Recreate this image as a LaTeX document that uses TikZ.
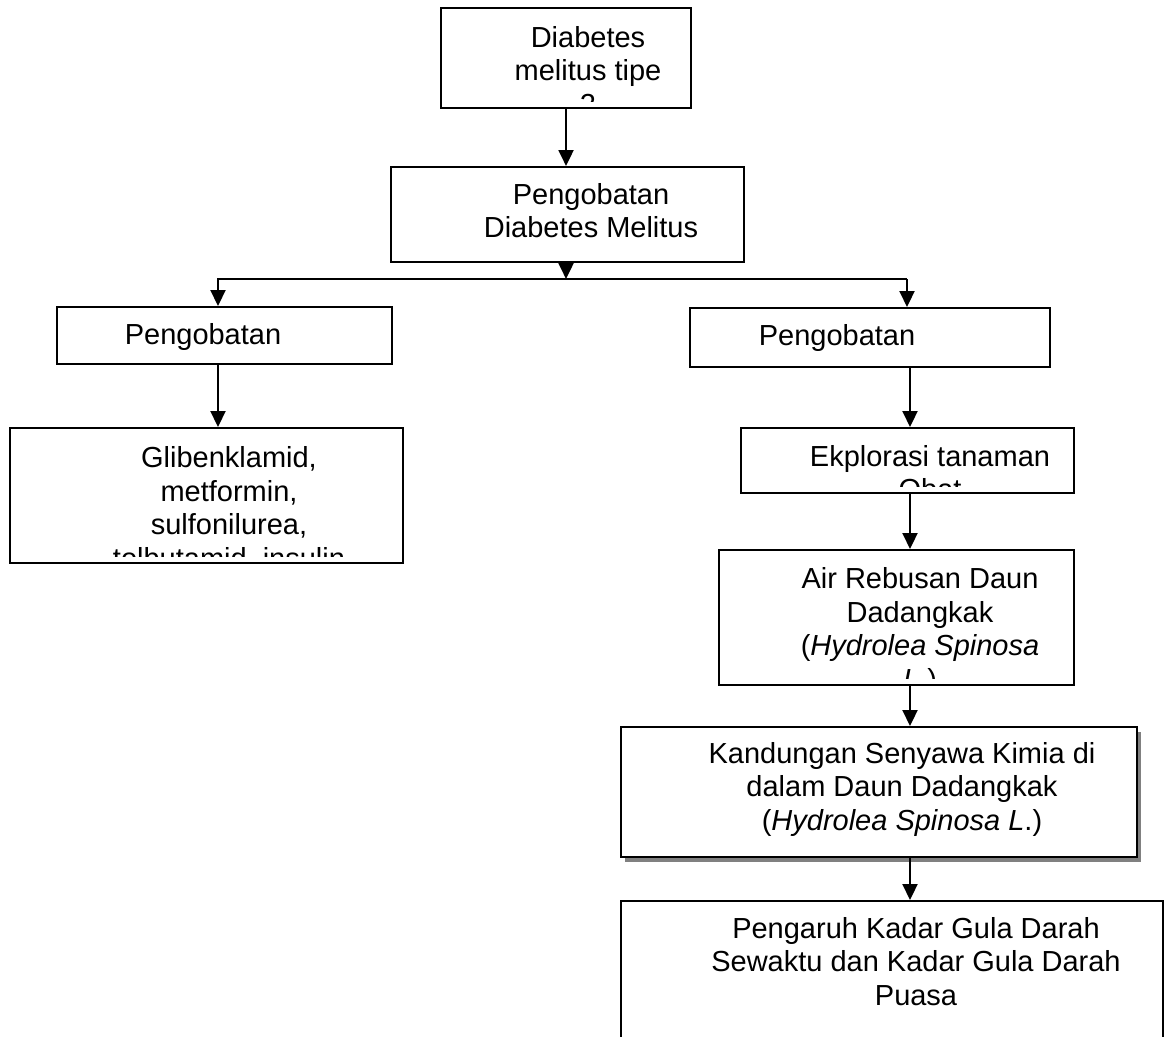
\documentclass[tikz,border=0pt]{standalone}
\usepackage{fontspec}
\setmainfont{Liberation Sans}
\usetikzlibrary{arrows.meta,shadows}

\tikzset{
  box/.style={draw, line width=1.2pt, fill=white, inner sep=0pt, anchor=north west},
  lbl/.style={font=\fontsize{16.5}{19.07}\selectfont, align=center, anchor=base, inner sep=0pt},
  flow/.style={line width=1.2pt, line join=miter, -{Triangle[width=0.3cm,length=0.32cm]}}
}
% text of a box, cut off a little above the bottom edge (placed at its last baseline)
\newcommand{\cliptext}[4]{%
  \begin{scope}
    \clip ([yshift=0.16cm]#1.south west) rectangle (#1.north east);
    \node[lbl] (#1t) at (#2,#3) {#4};
  \end{scope}}

\begin{document}
\begin{tikzpicture}[x=0.02cm,y=-0.02cm]
  \useasboundingbox (0,0) rectangle (1165,1036);
  \clip (0,0) rectangle (1165,1036);

  % boxes
  \node[box, minimum width=5cm, minimum height=2cm] (dm) at (440,7) {};
  \node[box, minimum width=7.06cm, minimum height=1.9cm] (obat) at (390,166) {};
  \node[box, minimum width=6.7cm, minimum height=1.14cm] (kimia) at (56,306) {};
  \node[box, minimum width=7.2cm, minimum height=1.18cm] (herbal) at (689,307) {};
  \node[box, minimum width=7.86cm, minimum height=2.7cm] (glib) at (9,427) {};
  \node[box, minimum width=6.66cm, minimum height=1.3cm] (eksp) at (740,427) {};
  \node[box, minimum width=7.1cm, minimum height=2.7cm] (air) at (718,549) {};
  \node[box, minimum width=10.32cm, minimum height=2.6cm,
        drop shadow={shadow xshift=0.08cm, shadow yshift=-0.1cm, fill=gray, opacity=1}] (senyawa) at (620,726) {};
  \node[box, minimum width=10.84cm, minimum height=3cm] (gula) at (620,900) {};

  % texts
  \cliptext{dm}{588}{114}{Diabetes\\melitus tipe\\2}
  \cliptext{obat}{591}{237.5}{Pengobatan\\Diabetes Melitus}
  \cliptext{kimia}{203}{344}{Pengobatan}
  \cliptext{herbal}{837}{345}{Pengobatan}
  \cliptext{glib}{229}{568}{Glibenklamid,\\metformin,\\sulfonilurea,\\tolbutamid, insulin}
  \cliptext{eksp}{930}{499.5}{Ekplorasi tanaman\\Obat}
  \cliptext{air}{920}{689}{Air Rebusan Daun\\Dadangkak\\(\textit{Hydrolea Spinosa}\\\textit{L}.)}
  \cliptext{senyawa}{902}{830}{Kandungan Senyawa Kimia di\\dalam Daun Dadangkak\\(\textit{Hydrolea Spinosa L}.)}
  \cliptext{gula}{916}{1005}{Pengaruh Kadar Gula Darah\\Sewaktu dan Kadar Gula Darah\\Puasa}

  % connectors
  \coordinate (jn) at (566,279);
  \coordinate (jl) at (218,279);
  \coordinate (jr) at (907,279);
  \coordinate (ax) at (910,0);
  \draw[flow] (dm.south) -- (dm.south |- obat.north);
  \draw[flow] (obat.south -| dm.south) -- (jn -| dm.south);
  \draw[flow] (jr) -- (jl) -- (jl |- kimia.north);
  \draw[flow] (jr) -- (jr |- herbal.north);
  \draw[flow] (kimia.south -| jl) -- (glib.north -| jl);
  \draw[flow] (herbal.south -| ax) -- (eksp.north -| ax);
  \draw[flow] (eksp.south -| ax) -- (air.north -| ax);
  \draw[flow] (air.south -| ax) -- (senyawa.north -| ax);
  \draw[flow] (senyawa.south -| ax) -- (gula.north -| ax);
\end{tikzpicture}
\end{document}
